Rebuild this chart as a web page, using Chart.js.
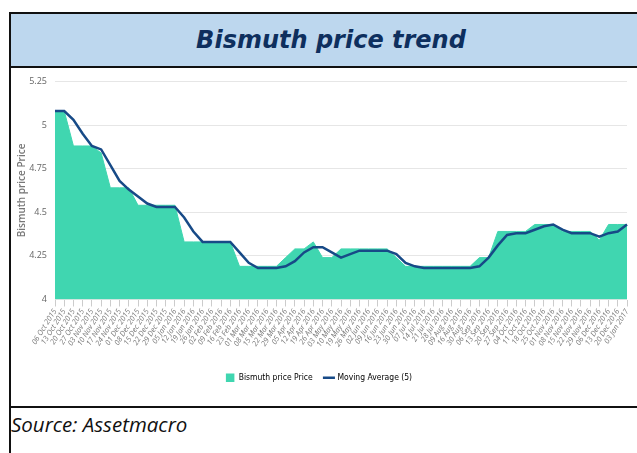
<!DOCTYPE html>
<html>
<head>
<meta charset="utf-8">
<title>Bismuth price trend</title>
<script src="https://cdn.jsdelivr.net/npm/chart.js@4.4.1/dist/chart.umd.min.js"></script>
<style>
    html, body {
        margin: 0;
        padding: 0;
        width: 637px;
        height: 453px;
        overflow: hidden;
        background: #ffffff;
    }
    .title-box {
        position: absolute;
        left: 9px;
        top: 12px;
        width: 632px;
        height: 56px;
        box-sizing: border-box;
        background: #bdd7ee;
        border: 2px solid #111111;
        font-family: "DejaVu Sans", Verdana, sans-serif;
        font-weight: bold;
        font-style: italic;
        font-size: 24px;
        color: #0e2f5e;
        line-height: 52px;
    }
    .title-box span {
        position: absolute;
        left: 0;
        width: 640px;
        text-align: center;
    }
    .chart-box {
        position: absolute;
        left: 9px;
        top: 66px;
        width: 632px;
        height: 342px;
        box-sizing: border-box;
        border-left: 2px solid #111111;
        border-bottom: 2px solid #111111;
    }
    .chart-wrap {
        position: absolute;
        left: 0;
        top: 2px;
        width: 625px;
        height: 338px;
    }
    .source-box {
        position: absolute;
        left: 9px;
        top: 408px;
        width: 632px;
        height: 60px;
        box-sizing: border-box;
        border-left: 2px solid #111111;
        font-family: "Open Sans", "Liberation Sans", sans-serif;
        font-style: italic;
        font-size: 20.5px;
        color: #111111;
        padding-left: 0;
        line-height: 33px;
    }
</style>
</head>
<body>
<div class="title-box"><span>Bismuth price trend</span></div>
<div class="chart-box">
    <div class="chart-wrap"><canvas id="priceChart"></canvas></div>
</div>
<div class="source-box">Source: Assetmacro</div>

<script>
// weekly dates as printed on the x axis
const weeks = [
    "06 Oct 2015", "13 Oct 2015", "20 Oct 2015", "27 Oct 2015", "03 Nov 2015", "10 Nov 2015",
    "17 Nov 2015", "24 Nov 2015", "01 Dec 2015", "08 Dec 2015", "15 Dec 2015", "22 Dec 2015",
    "29 Dec 2015", "05 Jan 2016", "12 Jan 2016", "19 Jan 2016", "26 Jan 2016", "02 Feb 2016",
    "09 Feb 2016", "16 Feb 2016", "23 Feb 2016", "01 Mar 2016", "08 Mar 2016", "15 Mar 2016",
    "22 Mar 2016", "29 Mar 2016", "05 Apr 2016", "12 Apr 2016", "19 Apr 2016", "26 Apr 2016",
    "03 May 2016", "10 May 2016", "19 May 2016", "26 May 2016", "02 Jun 2016", "09 Jun 2016",
    "16 Jun 2016", "23 Jun 2016", "30 Jun 2016", "07 Jul 2016", "14 Jul 2016", "21 Jul 2016",
    "28 Jul 2016", "09 Aug 2016", "16 Aug 2016", "30 Aug 2016", "06 Sep 2016", "13 Sep 2016",
    "20 Sep 2016", "27 Sep 2016", "04 Oct 2016", "11 Oct 2016", "18 Oct 2016", "25 Oct 2016",
    "01 Nov 2016", "08 Nov 2016", "15 Nov 2016", "22 Nov 2016", "29 Nov 2016", "06 Dec 2016",
    "13 Dec 2016", "20 Dec 2016", "03 Jan 2017"
];

// Bismuth price Price (area)
const bismuthPrice = [
    5.08, 5.08, 4.88, 4.88, 4.88, 4.84, 4.64, 4.64, 4.64, 4.54,
    4.54, 4.54, 4.54, 4.54, 4.33, 4.33, 4.33, 4.33, 4.33, 4.33,
    4.19, 4.19, 4.19, 4.19, 4.19, 4.24, 4.29, 4.29, 4.33, 4.24,
    4.24, 4.29, 4.29, 4.29, 4.29, 4.29, 4.29, 4.24, 4.19, 4.19,
    4.19, 4.19, 4.19, 4.19, 4.19, 4.19, 4.24, 4.24, 4.39, 4.39,
    4.39, 4.39, 4.43, 4.43, 4.43, 4.39, 4.39, 4.39, 4.39, 4.34,
    4.43, 4.43, 4.43
];

// Moving Average (5)
const movingAverage = [
    5.08, 5.08, 5.03, 4.95, 4.88, 4.86, 4.77, 4.68, 4.63, 4.59,
    4.55, 4.53, 4.53, 4.53, 4.47, 4.39, 4.33, 4.33, 4.33, 4.33,
    4.27, 4.21, 4.18, 4.18, 4.18, 4.19, 4.22, 4.27, 4.30, 4.30,
    4.27, 4.24, 4.26, 4.28, 4.28, 4.28, 4.28, 4.26, 4.21, 4.19,
    4.18, 4.18, 4.18, 4.18, 4.18, 4.18, 4.19, 4.24, 4.31, 4.37,
    4.38, 4.38, 4.40, 4.42, 4.43, 4.40, 4.38, 4.38, 4.38, 4.36,
    4.38, 4.39, 4.43
];

const yTicks = ["4", "4.25", "4.5", "4.75", "5", "5.25"];

const areaColor = "#40d6b0";
const lineColor = "#174a87";

let priceChart = null;

document.addEventListener("DOMContentLoaded", function () {
    const canvas = document.getElementById("priceChart");

    priceChart = new Chart(canvas, {
        type: "line",
        data: {
            labels: weeks,
            datasets: [
                {
                    label: "Moving Average (5)",
                    data: movingAverage,
                    borderColor: lineColor,
                    borderWidth: 2.5,
                    pointRadius: 0,
                    tension: 0,
                    fill: false
                },
                {
                    label: "Bismuth price Price",
                    data: bismuthPrice,
                    borderColor: areaColor,
                    backgroundColor: areaColor,
                    borderWidth: 1,
                    pointRadius: 0,
                    tension: 0,
                    fill: "start"
                }
            ]
        },
        options: {
            responsive: true,
            maintainAspectRatio: false,
            animation: false,
            layout: {
                padding: { left: 0, right: 9, top: 11, bottom: 14 }
            },
            scales: {
                x: {
                    grid: {
                        display: true,
                        drawOnChartArea: false,
                        drawTicks: true,
                        tickLength: 7,
                        color: "#cccccc"
                    },
                    border: { display: false },
                    ticks: {
                        autoSkip: false,
                        maxRotation: 58,
                        minRotation: 58,
                        padding: 1,
                        color: "#777777",
                        font: { family: "'Open Sans', sans-serif", size: 7.5, style: "italic" }
                    },
                    afterFit: function (scale) {
                        scale.height = 62;
                    }
                },
                y: {
                    min: 4,
                    max: 5.25,
                    ticks: {
                        stepSize: 0.25,
                        padding: 8,
                        color: "#666666",
                        font: { family: "'Open Sans', sans-serif", size: 9 },
                        callback: function (value) {
                            const idx = Math.round((value - 4) / 0.25);
                            return yTicks[idx];
                        }
                    },
                    grid: {
                        color: "#e6e6e6",
                        drawTicks: false
                    },
                    border: { display: false },
                    title: {
                        display: true,
                        text: "Bismuth price Price",
                        color: "#777777",
                        font: { family: "'Open Sans', sans-serif", size: 10, weight: "600" },
                        padding: { top: 5, bottom: 0 }
                    },
                    afterFit: function (scale) {
                        scale.width = 44;
                    }
                }
            },
            plugins: {
                legend: {
                    position: "bottom",
                    labels: {
                        usePointStyle: true,
                        boxWidth: 10,
                        boxHeight: 9,
                        padding: 12,
                        color: "#222222",
                        font: { family: "'Liberation Sans Narrow', 'DejaVu Sans Condensed', sans-serif", size: 8.5 },
                        generateLabels: function (chart) {
                            const ds = chart.data.datasets;
                            return [
                                {
                                    text: ds[1].label,
                                    fillStyle: areaColor,
                                    strokeStyle: areaColor,
                                    lineWidth: 0,
                                    pointStyle: "rect",
                                    datasetIndex: 1
                                },
                                {
                                    text: ds[0].label,
                                    fillStyle: lineColor,
                                    strokeStyle: lineColor,
                                    lineWidth: 2.5,
                                    pointStyle: "line",
                                    datasetIndex: 0
                                }
                            ];
                        }
                    }
                },
                tooltip: { enabled: false }
            }
        }
    });
});
</script>
</body>
</html>
